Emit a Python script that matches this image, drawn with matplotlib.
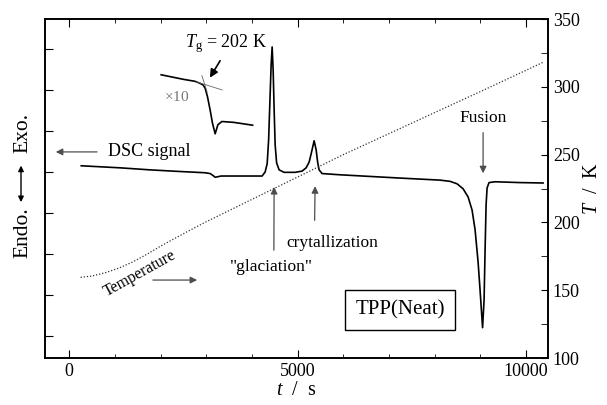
import matplotlib
matplotlib.use("Agg")
import matplotlib.pyplot as plt
from matplotlib.ticker import MultipleLocator

plt.rcParams['font.family'] = 'serif'
plt.rcParams['font.serif'] = ['Liberation Serif', 'DejaVu Serif']
plt.rcParams['mathtext.fontset'] = 'custom'
plt.rcParams['mathtext.rm'] = 'Liberation Serif'
plt.rcParams['mathtext.it'] = 'Liberation Serif:italic'

# DSC signal (arb. units) vs time (s)
t_dsc = [263, 1116, 1772, 2429, 2976, 3085, 3151, 3195, 3239, 3326, 3742, 4223,
         4289, 4333, 4365, 4398, 4420, 4442, 4464, 4486, 4508, 4540, 4595, 4705,
         4945, 5098, 5186, 5252, 5306, 5361, 5405, 5438, 5470, 5536, 5930, 7243,
         8118, 8337, 8490, 8621, 8731, 8818, 8884, 8950, 8993, 9048, 9081, 9103,
         9125, 9147, 9190, 9322, 9869, 10372]
dsc = [4.15, 4.10, 4.05, 4.01, 3.98, 3.96, 3.91, 3.87, 3.88, 3.90, 3.90, 3.90,
       4.00, 4.20, 4.78, 5.88, 6.61, 7.05, 6.49, 5.51, 4.66, 4.22, 4.05, 3.99,
       3.99, 4.02, 4.10, 4.24, 4.49, 4.76, 4.54, 4.24, 4.05, 3.96, 3.93, 3.85,
       3.80, 3.77, 3.71, 3.59, 3.39, 3.07, 2.59, 1.80, 1.12, 0.20, 0.88, 2.10,
       3.20, 3.61, 3.74, 3.76, 3.74, 3.73]

# x10 magnified glass transition region
t_zoom = [2013, 2495, 2757, 2867, 2932, 2976, 3026, 3085, 3136, 3195, 3254,
          3341, 3595, 4015]
dsc_zoom = [6.37, 6.26, 6.21, 6.16, 6.12, 6.04, 5.84, 5.51, 5.19, 4.93, 5.15,
            5.23, 5.21, 5.14]

# temperature (K) vs time (s)
t_temp = [250, 500, 800, 1100, 1400, 1700, 2000, 2300, 2600, 3000, 4000, 5000,
          6000, 7000, 8000, 9000, 10400]
temp = [159.5, 160.5, 163.0, 166.5, 171.0, 176.5, 182.5, 188.0, 193.5, 200.5,
        217.0, 233.5, 250.0, 265.5, 281.0, 296.5, 318.5]

fig = plt.figure(figsize=(6.07, 4.05), dpi=100)
ax = fig.add_axes([0.0741, 0.116, 0.8287, 0.837])
ax2 = ax.twinx()

ax.plot(t_dsc, dsc, color='black', lw=1.2)
ax.plot(t_zoom, dsc_zoom, color='black', lw=1.2)
# tangent construction for Tg
ax.plot([2779, 3348], [6.20, 6.00], color='0.4', lw=0.6)
ax.plot([2904, 3020], [6.35, 5.95], color='0.4', lw=0.6)

ax2.plot(t_temp, temp, color='0.2', lw=0.9, ls=(0, (1, 1.5)))

ax.set_xlim(-530, 10480)
ax.set_ylim(-0.54, 7.73)
ax2.set_ylim(100, 350)

ax.xaxis.set_major_locator(MultipleLocator(5000))
ax.xaxis.set_minor_locator(MultipleLocator(1000))
ax.yaxis.set_major_locator(MultipleLocator(1))
ax.set_yticklabels([])
ax2.yaxis.set_major_locator(MultipleLocator(50))
ax2.yaxis.set_minor_locator(MultipleLocator(25))

ax.tick_params(axis='x', which='both', direction='in', top=True, labelsize=13)
ax.tick_params(axis='x', which='major', length=6)
ax.tick_params(axis='x', which='minor', length=3)
ax.tick_params(axis='y', which='both', direction='in', length=6, right=False)
ax2.tick_params(axis='y', which='both', direction='in', length=5, labelsize=13)
for a in (ax, ax2):
    for s in a.spines.values():
        s.set_linewidth(1.2)

ax.set_xlabel('$t$  /  s', fontsize=14.5, labelpad=1)
ax2.set_ylabel('$T$  /  K', fontsize=14.5, labelpad=2)

# Exo / Endo label on the left
fig.text(0.037, 0.672, 'Exo.', rotation=90, fontsize=15.5, ha='center', va='center')
fig.text(0.037, 0.425, 'Endo.', rotation=90, fontsize=15.5, ha='center', va='center')
fig.patches.append(matplotlib.patches.FancyArrowPatch(
    (0.0346, 0.494), (0.0346, 0.598), transform=fig.transFigure,
    arrowstyle='<|-|>', mutation_scale=8, color='black', lw=1.0))

arr = dict(arrowstyle='-|>', color='0.3', lw=0.9, mutation_scale=10)

ax.annotate('$T_\\mathrm{g}$ = 202 K', xy=(0.360, 0.929), xycoords='axes fraction',
            ha='center', va='center', fontsize=13)
ax.annotate('', xy=(0.325, 0.820), xytext=(0.351, 0.884), xycoords='axes fraction',
            arrowprops=dict(arrowstyle='-|>', color='black', lw=1.2, mutation_scale=12))
ax.text(0.261, 0.770, '$\\times$10', transform=ax.transAxes, ha='center', va='center',
        fontsize=11, color='0.45')

ax.text(0.125, 0.608, 'DSC signal', transform=ax.transAxes, ha='left', va='center',
        fontsize=13)
ax.annotate('', xy=(0.016, 0.608), xytext=(0.109, 0.608), xycoords='axes fraction',
            arrowprops=arr)

ax.text(0.189, 0.250, 'Temperature', transform=ax.transAxes, ha='center', va='center',
        fontsize=11.5, rotation=29)
ax.annotate('', xy=(0.308, 0.230), xytext=(0.209, 0.230), xycoords='axes fraction',
            arrowprops=arr)

ax.annotate('', xy=(4486, 3.7), xytext=(0.455, 0.310),
            xycoords='data', textcoords='axes fraction', arrowprops=arr)
ax.text(0.451, 0.268, '"glaciation"', transform=ax.transAxes, ha='center', va='center',
        fontsize=12.5)
ax.annotate('', xy=(5383, 3.72), xytext=(0.536, 0.398),
            xycoords='data', textcoords='axes fraction', arrowprops=arr)
ax.text(0.571, 0.339, 'crytallization', transform=ax.transAxes, ha='center', va='center',
        fontsize=12.5)

ax.text(0.871, 0.708, 'Fusion', transform=ax.transAxes, ha='center', va='center',
        fontsize=12.5)
ax.annotate('', xy=(9059, 3.9), xytext=(0.871, 0.673),
            xycoords='data', textcoords='axes fraction', arrowprops=arr)

ax.text(0.706, 0.142, 'TPP(Neat)', transform=ax.transAxes, ha='center', va='center',
        fontsize=15, bbox=dict(boxstyle='square,pad=0.5', fc='white', ec='black', lw=1.0))

fig.savefig('out.png', dpi=100)
